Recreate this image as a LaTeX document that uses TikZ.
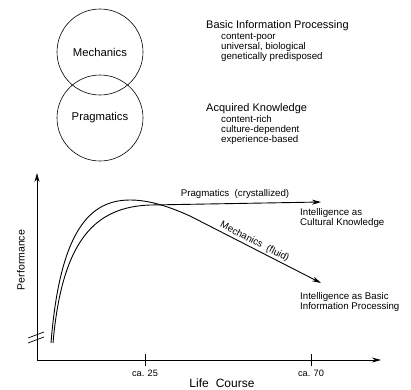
\documentclass[tikz,border=0pt]{standalone}
\usepackage{fontspec}
\setmainfont{Liberation Sans}
\usetikzlibrary{arrows.meta}
\usetikzlibrary{positioning}
\tikzset{sphere/.style={circle,draw=black,line width=0.6pt,minimum size=86pt,inner sep=0pt,font=\fontsize{11.3}{13}\selectfont}}
\tikzset{head/.style={anchor=base west,inner sep=0pt,font=\fontsize{11}{13}\selectfont}}
\tikzset{sub/.style={anchor=base west,inner sep=0pt,font=\fontsize{9.7}{11}\selectfont}}
\tikzset{lbl/.style={inner sep=0pt,font=\fontsize{9.7}{11}\selectfont}}
\tikzset{curve/.style={line width=0.9pt}}
\tikzset{arr/.style={-{Stealth[length=9pt,width=5pt]}}}

\begin{document}
\begin{tikzpicture}[x=1pt,y=-1pt]
\useasboundingbox (0,0) rectangle (411,389);
  % the two components
  \node[sphere] (mech) at (100,52) {Mechanics};
  \node[sphere] (prag) at (100,118) {Pragmatics};
  \node[head] (bip) at (206,28) {Basic Information Processing};
  \node[sub] (bip1) at (221,39) {content-poor};
  \node[sub] (bip2) at (221,49) {universal, biological};
  \node[sub] (bip3) at (221,59) {genetically predisposed};
  \node[head] (ak) at (206,111) {Acquired Knowledge};
  \node[sub] (ak1) at (221,122) {content-rich};
  \node[sub] (ak2) at (221,132) {culture-dependent};
  \node[sub] (ak3) at (221,142) {experience-based};

  % axes
  \coordinate (O) at (37,360);
  \coordinate (ytop) at (37,173);
  \coordinate (xend) at (381,360);
  \draw[curve,arr] (O) -- (ytop);
  \draw[curve,arr] (O) -- (xend);
  \draw[line width=0.7pt] (28,338) -- (44,332);
  \draw[line width=0.7pt] (28,343) -- (44,337);
  \coordinate (t25) at (145,360);
  \coordinate (t70) at (311,360);
  \draw[curve] ([yshift=-6pt]t25) -- ([yshift=6pt]t25);
  \draw[curve] ([yshift=-6pt]t70) -- ([yshift=6pt]t70);
  \node[lbl,anchor=base,font=\fontsize{9.2}{11}\selectfont] (l25) at (145,376) {ca. 25};
  \node[lbl,anchor=base,font=\fontsize{9.2}{11}\selectfont] (l70) at (311,376) {ca. 70};
  \node[lbl,anchor=base,font=\fontsize{12}{14}\selectfont] (lc) at (222,387) {Life\hspace{7pt}Course};
  \node[lbl,rotate=90,font=\fontsize{10.5}{12}\selectfont] (perf) at (21,260) {Performance};

  % the two curves
  \coordinate (ms) at (51,343);
  \coordinate (mp) at (130,200);
  \coordinate (mb) at (190,216);
  \coordinate (me) at (321,283);
  \coordinate (ps) at (53,343);
  \coordinate (pb) at (150,205);
  \coordinate (pe) at (321,202);
  \draw[curve] (ms) .. controls (60,230) and (90,200) .. (mp)
    .. controls (150,200) and (170,207) .. (mb);
  \draw[curve,arr] (mb) -- (me);
  \draw[curve] (ps) .. controls (62,240) and (95,207) .. (pb);
  \draw[curve,arr] (pb) -- (pe);

  \node[lbl,anchor=base] (pl) at (235,196) {Pragmatics\ \ (crystallized)};
  \node[lbl,anchor=south,rotate=-27,inner sep=1pt] (ml) at (252,247) {Mechanics\ \ (fluid)};
  \node[sub] (ic1) at (300,215.5) {Intelligence as};
  \node[sub] (ic2) at (300,225.5) {Cultural Knowledge};
  \node[sub] (ib1) at (300,299) {Intelligence as Basic};
  \node[sub] (ib2) at (300,309) {Information Processing};
\end{tikzpicture}
\end{document}
